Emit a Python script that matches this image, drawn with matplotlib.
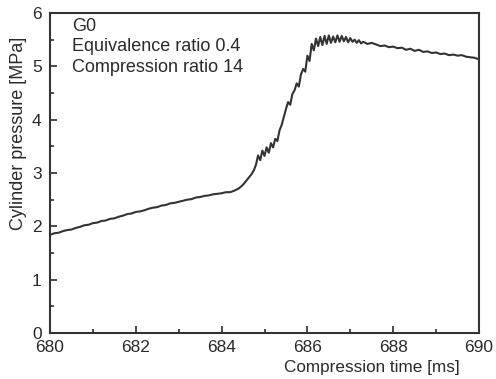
import matplotlib
matplotlib.use('Agg')
import matplotlib.pyplot as plt
from matplotlib.ticker import MultipleLocator

plt.rcParams['font.family'] = ['Liberation Sans', 'DejaVu Sans']

# compression time [ms] and cylinder pressure [MPa]
time_ms = [
    680.0, 680.1, 680.2, 680.3, 680.4, 680.5, 680.6, 680.7, 680.8, 680.9,
    681.0, 681.1, 681.2, 681.3, 681.4, 681.5, 681.6, 681.7, 681.8, 681.9,
    682.0, 682.1, 682.2, 682.3, 682.4, 682.5, 682.6, 682.7, 682.8, 682.9,
    683.0, 683.1, 683.2, 683.3, 683.4, 683.5, 683.6, 683.7, 683.8, 683.9,
    684.0, 684.1, 684.2, 684.3, 684.4, 684.5, 684.6, 684.7, 684.75,
    684.8, 684.85, 684.9, 684.95, 685.0, 685.05, 685.1, 685.15, 685.2, 685.25,
    685.3, 685.35, 685.4, 685.45, 685.5, 685.55, 685.6, 685.65, 685.7, 685.75,
    685.8, 685.85, 685.9, 685.95, 686.0, 686.05, 686.1, 686.15, 686.2, 686.25,
    686.3, 686.35, 686.4, 686.45, 686.5, 686.55, 686.6, 686.65, 686.7, 686.75,
    686.8, 686.85, 686.9, 686.95, 687.0, 687.05, 687.1, 687.15, 687.2, 687.25,
    687.3, 687.4, 687.5, 687.6, 687.7, 687.8, 687.9, 688.0, 688.1, 688.2,
    688.3, 688.4, 688.5, 688.6, 688.7, 688.8, 688.9, 689.0, 689.1, 689.2,
    689.3, 689.4, 689.5, 689.6, 689.7, 689.8, 689.9, 690.0,
]
pressure_mpa = [
    1.84, 1.87, 1.88, 1.91, 1.93, 1.94, 1.97, 1.99, 2.02, 2.03,
    2.06, 2.07, 2.10, 2.11, 2.14, 2.15, 2.18, 2.20, 2.23, 2.24,
    2.27, 2.28, 2.30, 2.33, 2.35, 2.36, 2.39, 2.40, 2.43, 2.44,
    2.46, 2.48, 2.50, 2.51, 2.54, 2.55, 2.57, 2.58, 2.60, 2.61,
    2.62, 2.64, 2.64, 2.67, 2.71, 2.78, 2.88, 2.98, 3.05,
    3.15, 3.33, 3.24, 3.42, 3.32, 3.48, 3.38, 3.56, 3.48, 3.64,
    3.60, 3.80, 3.90, 4.05, 4.20, 4.33, 4.28, 4.48, 4.55, 4.68,
    4.62, 4.85, 4.95, 4.90, 5.20, 5.10, 5.42, 5.30, 5.52, 5.38,
    5.55, 5.40, 5.57, 5.42, 5.58, 5.44, 5.56, 5.45, 5.58, 5.46,
    5.57, 5.47, 5.55, 5.45, 5.53, 5.46, 5.50, 5.44, 5.49, 5.43,
    5.46, 5.42, 5.44, 5.41, 5.38, 5.39, 5.36, 5.37, 5.34, 5.35,
    5.31, 5.33, 5.29, 5.31, 5.27, 5.28, 5.25, 5.26, 5.23, 5.24,
    5.21, 5.22, 5.20, 5.21, 5.18, 5.17, 5.16, 5.13,
]
info_lines = ['G0', 'Equivalence ratio 0.4', 'Compression ratio 14']

ink = '#2a2a2a'
fs = 13
tick_fs = 12.5

fig = plt.figure(figsize=(4.96, 3.79), dpi=100)
ax = fig.add_axes([50 / 496, 1 - 333 / 379, 429 / 496, 320 / 379])

ax.plot(time_ms, pressure_mpa, color='#333333', lw=1.5)

ax.set_xlim(680, 690)
ax.set_ylim(0, 6)
ax.xaxis.set_major_locator(MultipleLocator(2))
ax.xaxis.set_minor_locator(MultipleLocator(1))
ax.yaxis.set_major_locator(MultipleLocator(1))
ax.yaxis.set_minor_locator(MultipleLocator(0.5))
ax.tick_params(which='both', direction='in', colors=ink, labelsize=tick_fs, width=1.2)
ax.tick_params(which='major', length=5)
ax.tick_params(axis='x', which='major', pad=5)
ax.tick_params(axis='y', which='major', pad=6)
ax.tick_params(which='minor', length=3)
for sp in ax.spines.values():
    sp.set_color('#333333')
    sp.set_linewidth(1.5)

ax.set_xlabel('Compression time [ms]', fontsize=12.3, color=ink, ha='right')
ax.xaxis.set_label_coords((460 - 50) / 429, -0.083)
ax.set_ylabel('Cylinder pressure [MPa]', fontsize=fs, color=ink)
ax.yaxis.set_label_coords(-(50 - 27) / 429, (333 - 133) / 320)

for line, yb in zip(info_lines, [0.945, 0.882, 0.817]):
    ax.text(0.051, yb, line, transform=ax.transAxes, fontsize=fs,
            color=ink, va='baseline', ha='left')

fig.savefig('out.png', dpi=100)
